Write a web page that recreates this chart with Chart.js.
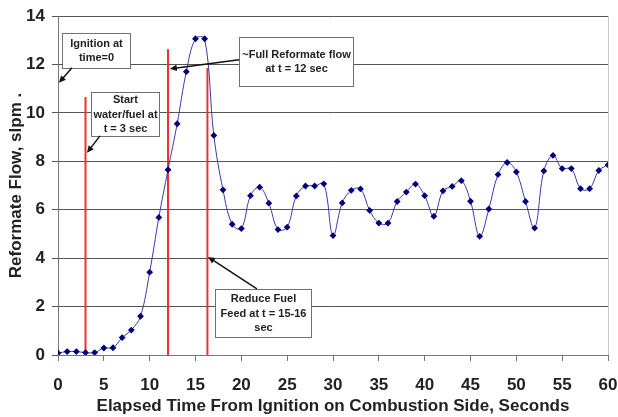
<!DOCTYPE html>
<html>
<head>
<meta charset="utf-8">
<script src="https://cdn.jsdelivr.net/npm/chart.js@4.4.0/dist/chart.umd.min.js"></script>
<style>
  html, body { margin: 0; padding: 0; background: #ffffff; }
  #wrap { width: 618px; height: 417px; position: relative; }
</style>
</head>
<body>
<div id="wrap"><canvas id="c" width="618" height="417"></canvas></div>
<script>
// ---- Data ----
const timeSec = [0,1,2,3,4,5,6,7,8,9,10,11,12,13,14,15,16,17,18,19,20,21,22,23,24,25,26,27,28,29,30,
                 31,32,33,34,35,36,37,38,39,40,41,42,43,44,45,46,47,48,49,50,51,52,53,54,55,56,57,58,59,60];
const reformateFlow = [0.08,0.14,0.14,0.10,0.10,0.29,0.30,0.72,1.03,1.60,3.42,5.68,7.65,9.55,11.70,13.06,13.06,9.07,6.82,5.40,5.22,
                       6.58,6.93,6.27,5.18,5.28,6.57,6.98,6.98,7.07,4.93,6.28,6.80,6.86,5.97,5.45,5.45,6.34,6.73,7.06,6.58,
                       5.73,6.78,6.96,7.20,6.35,4.90,6.03,7.45,7.95,7.56,6.34,5.24,7.60,8.24,7.70,7.70,6.87,6.87,7.62,7.85];
const xTicks = [0,5,10,15,20,25,30,35,40,45,50,55,60];
const yTicks = [0,2,4,6,8,10,12,14];

// Event marker lines (time, top value)
const eventTimes = [3, 12, 16.3];
const eventTops  = [10.65, 12.63, 11.85];

// Callout texts
const calloutTexts = [
  ["Ignition at", "time=0"],
  ["Start", "water/fuel at", "t = 3 sec"],
  ["~Full Reformate flow", "at t = 12 sec"],
  ["Reduce Fuel", "Feed at t = 15-16", "sec"]
];
// Callout boxes in data coords [t0, t1, vTop, vBottom]
const calloutBoxes = [
  [0.44, 7.85, 13.3, 11.86],
  [3.6, 11.0, 10.87, 9.05],
  [19.75, 32.2, 13.14, 11.12],
  [17.13, 27.6, 2.73, 0.74]
];
// Arrows in data coords [fromT, fromV, tipT, tipV]
const calloutArrows = [
  [1.53, 11.86, 0.1, 11.24],
  [4.58, 9.05, 3.16, 8.35],
  [19.75, 12.19, 12.2, 11.82],
  [21.7, 2.73, 16.36, 4.05]
];

const FONT = "'Liberation Sans', Arial, sans-serif";

const eventDatasets = eventTimes.map((t, i) => ({
  data: [{x: t, y: 0}, {x: t, y: eventTops[i]}],
  borderColor: '#f03030',
  borderWidth: 2,
  pointRadius: 0,
  tension: 0,
  order: 2
}));

const calloutPlugin = {
  id: 'callouts',
  afterDatasetsDraw(chart) {
    const ctx = chart.ctx;
    const xs = chart.scales.x, ys = chart.scales.y;
    ctx.save();
    const ca = chart.chartArea;
    ctx.strokeStyle = '#c8c8c8';
    ctx.lineWidth = 1;
    ctx.beginPath();
    ctx.moveTo(Math.round(ca.right) + 0.5, ca.top);
    ctx.lineTo(Math.round(ca.right) + 0.5, ca.bottom);
    ctx.stroke();

    calloutBoxes.forEach((b, i) => {
      const x0 = Math.round(xs.getPixelForValue(b[0])) + 0.5;
      const x1 = Math.round(xs.getPixelForValue(b[1])) + 0.5;
      const y0 = Math.round(ys.getPixelForValue(b[2])) + 0.5;
      const y1 = Math.round(ys.getPixelForValue(b[3])) + 0.5;
      ctx.fillStyle = '#ffffff';
      ctx.fillRect(x0, y0, x1 - x0, y1 - y0);
      ctx.strokeStyle = '#707070';
      ctx.lineWidth = 1;
      ctx.strokeRect(x0, y0, x1 - x0, y1 - y0);
      const lines = calloutTexts[i];
      ctx.fillStyle = '#222222';
      ctx.font = "bold 11px " + FONT;
      ctx.textAlign = 'center';
      ctx.textBaseline = 'middle';
      const lh = 14.5;
      const cx = (x0 + x1) / 2, cy = (y0 + y1) / 2;
      lines.forEach((ln, k) => {
        ctx.fillText(ln, cx, cy + (k - (lines.length - 1) / 2) * lh);
      });
    });

    calloutArrows.forEach(a => {
      const fx = xs.getPixelForValue(a[0]), fy = ys.getPixelForValue(a[1]);
      const tx = xs.getPixelForValue(a[2]), ty = ys.getPixelForValue(a[3]);
      const ang = Math.atan2(ty - fy, tx - fx);
      ctx.strokeStyle = '#111111';
      ctx.fillStyle = '#111111';
      ctx.lineWidth = 1.5;
      ctx.beginPath();
      ctx.moveTo(fx, fy);
      ctx.lineTo(tx - 5 * Math.cos(ang), ty - 5 * Math.sin(ang));
      ctx.stroke();
      const hl = 7, hw = 3.2;
      ctx.beginPath();
      ctx.moveTo(tx, ty);
      ctx.lineTo(tx - hl * Math.cos(ang) + hw * Math.sin(ang), ty - hl * Math.sin(ang) - hw * Math.cos(ang));
      ctx.lineTo(tx - hl * Math.cos(ang) - hw * Math.sin(ang), ty - hl * Math.sin(ang) + hw * Math.cos(ang));
      ctx.closePath();
      ctx.fill();
    });
    ctx.restore();
  }
};

new Chart(document.getElementById('c'), {
  type: 'line',
  data: {
    datasets: [
      {
        data: timeSec.map((t, i) => ({x: t, y: reformateFlow[i]})),
        borderColor: '#3a3aa8',
        borderWidth: 1,
        pointStyle: 'rectRot',
        pointRadius: 3.4,
        pointBackgroundColor: '#00007a',
        pointBorderColor: '#00007a',
        pointBorderWidth: 0,
        tension: 0.38,
        order: 1
      },
      ...eventDatasets
    ]
  },
  options: {
    responsive: false,
    animation: false,
    devicePixelRatio: 1,
    layout: { padding: { top: 16, right: 10, left: 0, bottom: 0 } },
    plugins: { legend: { display: false }, tooltip: { enabled: false } },
    scales: {
      x: {
        type: 'linear',
        min: 0, max: 60,
        afterBuildTicks(scale) { scale.ticks = xTicks.map(v => ({value: v})); },
        afterFit(scale) { scale.height = 62; scale.paddingLeft = 0; scale.paddingRight = 0; },
        grid: { drawOnChartArea: false, drawTicks: true, tickLength: 6, color: '#777777' },
        border: { color: '#777777', width: 1 },
        ticks: { color: '#222222', font: { family: FONT, size: 17, weight: 'bold' }, padding: 14, maxRotation: 0 },
        title: {
          display: true,
          text: 'Elapsed Time From Ignition on Combustion Side, Seconds',
          color: '#222222',
          font: { family: FONT, size: 17, weight: 'bold' },
          padding: { top: 0, bottom: 0 }
        }
      },
      y: {
        min: 0, max: 14,
        afterBuildTicks(scale) { scale.ticks = yTicks.map(v => ({value: v})); },
        afterFit(scale) { scale.width = 58; scale.paddingTop = 0; scale.paddingBottom = 0; },
        grid: { color: '#555555', lineWidth: 1, tickLength: 6 },
        border: { color: '#777777', width: 1 },
        ticks: { color: '#222222', font: { family: FONT, size: 17, weight: 'bold' }, padding: 7 },
        title: {
          display: true,
          text: 'Reformate Flow, slpm .',
          color: '#222222',
          font: { family: FONT, size: 17, weight: 'bold' },
          padding: { top: 6, bottom: 0 }
        }
      }
    }
  },
  plugins: [calloutPlugin]
});
</script>
</body>
</html>
